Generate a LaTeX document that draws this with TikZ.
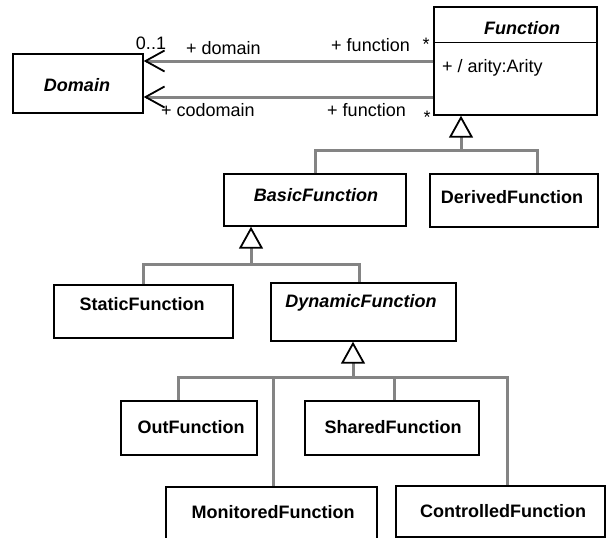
\documentclass[tikz,border=0pt]{standalone}
\usepackage{fontspec}
\setmainfont{Liberation Sans}
\usetikzlibrary{arrows.meta}
\definecolor{linkgray}{RGB}{132,132,132}
\begin{document}
\begin{tikzpicture}[x=1pt,y=-1pt,
  font=\fontsize{18}{21}\selectfont,
  cls/.style={draw=black,line width=1.4pt,fill=white,inner sep=0pt},
  txt/.style={inner sep=0pt},
  cname/.style={txt,font=\fontsize{18}{21}\selectfont\bfseries},
  aname/.style={txt,font=\fontsize{18}{21}\selectfont\bfseries\itshape},
  assoc/.style={draw=linkgray,line width=3pt,
    -{Straight Barb[length=19pt,width=21pt,line width=1.8pt,color=black]}},
  genline/.style={draw=linkgray,line width=3pt},
  gentip/.style={genline,
    -{Triangle[length=22pt,width=24pt,line width=1.8pt,color=black,fill=white]}}]
\useasboundingbox (0,0) rectangle (606,538);
\clip (0,0) rectangle (606,538);

% class boxes
\node[cls,minimum width=130pt,minimum height=59pt] (domain) at (78,83.5) {};
\node[cls,minimum width=163pt,minimum height=108pt] (function) at (515.5,61) {};
\node[cls,minimum width=182pt,minimum height=52pt] (basic) at (315,200) {};
\node[cls,minimum width=168pt,minimum height=53pt] (derived) at (514,200.5) {};
\node[cls,minimum width=179pt,minimum height=53pt] (static) at (143.5,311.5) {};
\node[cls,minimum width=185pt,minimum height=58pt] (dynamic) at (363.5,312) {};
\node[cls,minimum width=136pt,minimum height=54pt] (out) at (189,428) {};
\node[cls,minimum width=174pt,minimum height=54pt] (shared) at (392,428) {};
\node[cls,minimum width=211pt,minimum height=61pt] (monitored) at (271.5,517.5) {};
\node[cls,minimum width=209pt,minimum height=51pt] (controlled) at (500.5,511.5) {};

% attribute compartment of Function
\draw[line width=1.4pt] ([yshift=-36pt]function.north west) -- ([yshift=-36pt]function.north east);

% class names and attribute
\node[aname] (domainname) at (77,85) {Domain};
\node[aname] (functionname) at (522,28) {Function};
\node[txt,anchor=west] (arity) at (442,68) {+ / arity:Arity};
\node[aname] (basicname) at (316,195) {BasicFunction};
\node[cname] (derivedname) at (512,197) {DerivedFunction};
\node[cname] (staticname) at (142,304) {StaticFunction};
\node[aname] (dynamicname) at (361,303) {DynamicFunction};
\node[cname] (outname) at (191,427) {OutFunction};
\node[cname] (sharedname) at (393,427) {SharedFunction};
\node[cname] (monitoredname) at (273,512) {MonitoredFunction};
\node[cname] (controlledname) at (503,511) {ControlledFunction};

% associations Function -> Domain
\draw[assoc] (function.west) -- ([yshift=22.5pt]domain.east);
\draw[assoc] ([yshift=-36pt]function.west) -- ([yshift=-13.5pt]domain.east);

% association end labels
\node[txt] (mult1) at (151,43) {0..1};
\node[txt,anchor=west] (rdomain) at (186,48) {+ domain};
\node[txt,anchor=east] (rfunction1) at (410,45) {+ function};
\node[txt] (star1) at (426,44) {*};
\node[txt,anchor=west] (rcodomain) at (161,110) {+ codomain};
\node[txt,anchor=east] (rfunction2) at (406,110) {+ function};
\node[txt] (star2) at (427,117) {*};

% generalization: Function
\coordinate (t1) at (461,150);
\coordinate (t1r) at (537,150);
\draw[genline] (basic.north) -- (basic.north |- t1) -- (t1r) -- (t1r |- derived.north);
\draw[gentip] (t1) -- (t1 |- function.south);

% generalization: BasicFunction
\coordinate (t2) at (251,264);
\coordinate (t2r) at (359,264);
\draw[genline] (static.north) -- (static.north |- t2) -- (t2r) -- (t2r |- dynamic.north);
\draw[gentip] (t2) -- (t2 |- basic.south);

% generalization: DynamicFunction
\coordinate (t3) at (353,377);
\coordinate (t3a) at (178,377);
\coordinate (t3b) at (273,377);
\coordinate (t3c) at (394,377);
\coordinate (t3d) at (507,377);
\draw[genline] (t3a |- out.north) -- (t3a) -- (t3d) -- (t3d |- controlled.north);
\draw[genline] (t3b) -- (t3b |- monitored.north);
\draw[genline] (t3c) -- (t3c |- shared.north);
\draw[gentip] (t3) -- (t3 |- dynamic.south);
\end{tikzpicture}
\end{document}
